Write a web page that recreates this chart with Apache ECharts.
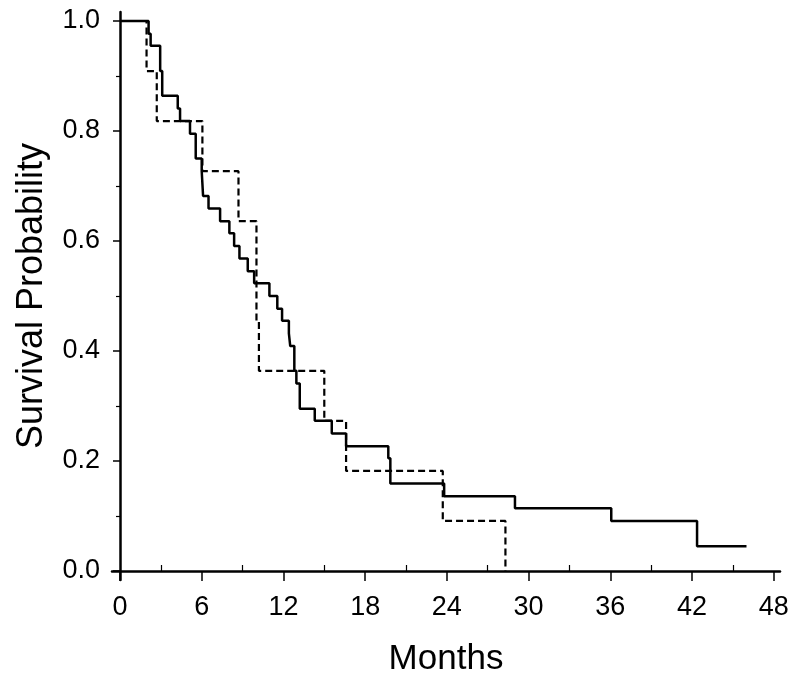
<!DOCTYPE html>
<html>
<head>
<meta charset="utf-8">
<script src="https://cdn.jsdelivr.net/npm/echarts@6/dist/echarts.min.js"></script>
<style>
html,body{margin:0;padding:0;background:#fff;}
#chart{width:800px;height:681px;}
</style>
</head>
<body>
<div id="chart"></div>
<script>
// Solid curve (Kaplan-Meier, group 1)
var solidMonths = [0, 2.1, 2.25, 2.95, 3.1, 4.24, 4.41, 5.14, 5.56, 6.0, 6.1, 6.5, 7.35, 8.03, 8.38, 8.77, 9.38, 9.85, 10.97, 11.55, 11.9, 12.4, 12.5, 12.8, 12.95, 13.2, 14.3, 15.55, 16.6, 19.7, 19.85, 23.8, 29.0, 36.07, 42.37, 46.0];
var solidSurv   = [1.0, 0.977, 0.955, 0.909, 0.864, 0.841, 0.818, 0.795, 0.750, 0.727, 0.682, 0.659, 0.636, 0.614, 0.591, 0.568, 0.545, 0.523, 0.500, 0.477, 0.455, 0.432, 0.409, 0.364, 0.341, 0.295, 0.273, 0.250, 0.227, 0.205, 0.159, 0.136, 0.114, 0.091, 0.045, 0.045];
// Dashed curve (group 2)
var dashedMonths = [0, 1.95, 2.7, 6.05, 8.7, 10.02, 10.2, 15.0, 16.6, 23.7, 28.3];
var dashedSurv   = [1.0, 0.909, 0.818, 0.727, 0.636, 0.455, 0.364, 0.273, 0.182, 0.091, 0.0];
// Tick labels
var xMajorTicks = [0, 6, 12, 18, 24, 30, 36, 42, 48];
var xMinorTicks = [3, 9, 15, 21, 27, 33, 39, 45];
var yMajorTicks = [0, 0.2, 0.4, 0.6, 0.8, 1.0];
var yMinorTicks = [0.1, 0.3, 0.5, 0.7, 0.9];

function pairs(xs, ys){ return xs.map(function(x,i){ return [x, ys[i]]; }); }

var FONT = 'Liberation Sans, Arial, Helvetica, sans-serif';
var X_MIN = -0.587, X_MAX = 48.46, Y_MIN = -0.01636, Y_MAX = 1.01636;

var chart = echarts.init(document.getElementById('chart'), null, {renderer:'canvas'});
chart.setOption({
  animation: false,
  backgroundColor: '#ffffff',
  grid: {left:112, right:20, top:12, bottom:101, containLabel:false, outerBoundsMode:'none'},
  xAxis: [
    {
      type:'value', min:X_MIN, max:X_MAX,
      name:'Months', nameLocation:'middle', nameGap:62,
      nameTextStyle:{fontFamily:FONT, fontSize:35, color:'#000'},
      axisLine:{show:true, lineStyle:{color:'#000', width:2.5}},
      axisTick:{show:true, customValues:xMajorTicks, length:10, lineStyle:{color:'#000', width:1.5}},
      axisLabel:{show:true, customValues:xMajorTicks, margin:14, fontFamily:FONT, fontSize:27, color:'#000'},
      splitLine:{show:false}
    },
    {
      type:'value', min:X_MIN, max:X_MAX,
      axisLine:{show:false},
      axisTick:{show:true, customValues:xMinorTicks, length:6, lineStyle:{color:'#000', width:1.2}},
      axisLabel:{show:false},
      splitLine:{show:false}
    }
  ],
  yAxis: [
    {
      type:'value', min:Y_MIN, max:Y_MAX,
      name:'Survival Probability', nameLocation:'middle', nameGap:62,
      nameTextStyle:{fontFamily:FONT, fontSize:36, color:'#000'},
      axisLine:{show:true, lineStyle:{color:'#000', width:2.5}},
      axisTick:{show:true, customValues:yMajorTicks, length:7, lineStyle:{color:'#000', width:1.5}},
      axisLabel:{show:true, customValues:yMajorTicks, margin:12, fontFamily:FONT, fontSize:27, color:'#000',
        formatter:function(v){ return (Math.round(v*10)/10).toFixed(1); }},
      splitLine:{show:false}
    },
    {
      type:'value', min:Y_MIN, max:Y_MAX, position:'left',
      axisLine:{show:false},
      axisTick:{show:true, customValues:yMinorTicks, length:4, lineStyle:{color:'#000', width:1.2}},
      axisLabel:{show:false},
      splitLine:{show:false}
    }
  ],
  series: [
    {
      type:'line', step:'end', xAxisIndex:0, yAxisIndex:0,
      data: pairs(solidMonths, solidSurv),
      showSymbol:false, symbol:'none',
      lineStyle:{color:'#000', width:2.5, type:'solid'},
      z:3
    },
    {
      type:'line', step:'end', xAxisIndex:0, yAxisIndex:0,
      data: pairs(dashedMonths, dashedSurv),
      showSymbol:false, symbol:'none',
      lineStyle:{color:'#000', width:2.2, type:[7,4]},
      z:2
    }
  ]
});
</script>
</body>
</html>
